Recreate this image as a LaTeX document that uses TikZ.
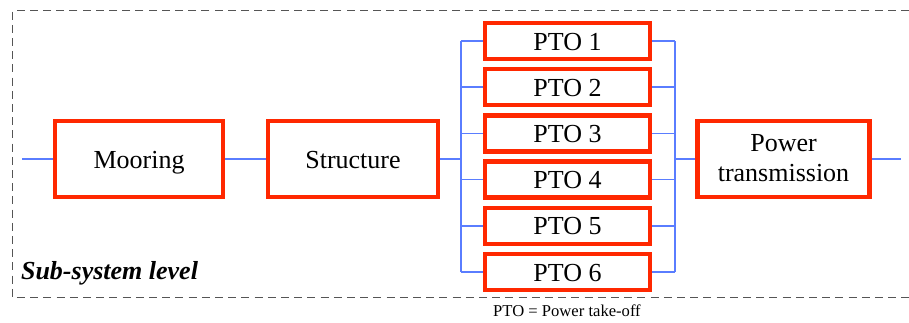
\documentclass[tikz,border=0pt]{standalone}
\usepackage{fontspec}
\setmainfont{Liberation Serif}
\usepackage{tikz}
\usetikzlibrary{positioning}

\definecolor{boxred}{RGB}{255,40,0}
\definecolor{linkblue}{RGB}{90,125,255}
\definecolor{frame}{RGB}{85,85,85}

\tikzset{
  blk/.style={draw=boxred, line width=2.2pt, fill=white, minimum width=84pt,
    minimum height=38pt, align=center, inner sep=1pt,
    font=\fontsize{13}{15}\selectfont},
  onetext/.style={text height=10pt, text depth=1pt},
  ptobox/.style={blk, onetext, minimum width=82.5pt, minimum height=18pt},
  link/.style={draw=linkblue, line width=0.8pt},
}

\begin{document}
\begin{tikzpicture}[x=0.5pt, y=-0.5pt]
\useasboundingbox (0,0) rectangle (909,322);
% dashed sub-system frame (right side runs off the page)
\draw[frame, line width=0.7pt, dash pattern=on 4pt off 2.6pt]
  (909,10.5) -- (12.5,10.5) -- (12.5,297.5) -- (909,297.5);
\node[anchor=base west, font=\fontsize{13}{15}\selectfont\bfseries\itshape] (lvl) at (14,279) {Sub-system level};
\node[font=\fontsize{8.3}{10}\selectfont] (note) at (567,311) {PTO = Power take-off};

% blocks
\node[blk, onetext] (moor) at (139,159) {Mooring};
\node[blk, onetext, minimum width=85pt] (struct) at (353,159) {Structure};
\foreach \i in {1,...,6}
  \node[ptobox] (pto\i) at (567.5,{41+46.2*(\i-1)}) {PTO \i};
\node[blk, minimum width=86pt, text depth=1pt] (power) at (783.5,159) {Power\\transmission};

% connectors
\coordinate (in) at (22,159);
\coordinate (out) at (901,159);
\coordinate (busl) at (461,159);
\coordinate (busr) at (675,159);
\draw[link] (in) -- (moor.west);
\draw[link] (moor.east) -- (struct.west);
\draw[link] (struct.east) -- (busl);
\draw[link] (pto1.west -| busl) -- (pto6.west -| busl);
\draw[link] (pto1.east -| busr) -- (pto6.east -| busr);
\foreach \i in {1,...,6} {
  \draw[link] (pto\i.west -| busl) -- (pto\i.west);
  \draw[link] (pto\i.east) -- (pto\i.east -| busr);
}
\draw[link] (busr) -- (power.west);
\draw[link] (power.east) -- (out);
\end{tikzpicture}
\end{document}
